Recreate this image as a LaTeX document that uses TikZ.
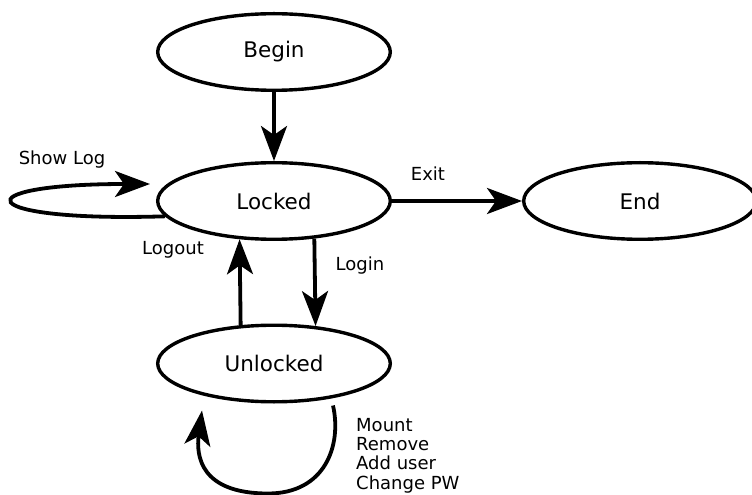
\documentclass[tikz,border=0pt]{standalone}
\usepackage{fontspec}
\setmainfont{DejaVu Sans}
\usetikzlibrary{calc}
\usetikzlibrary{positioning}
\usetikzlibrary{shapes.geometric}
\usetikzlibrary{arrows.meta}

\begin{document}
\begin{tikzpicture}[->, >={Stealth[length=35pt, width=26pt, inset=9pt]}, draw=black, font=\fontsize{18pt}{20pt}\selectfont]
			\tikzstyle{state}=[draw=black, ellipse, line width=3.4pt, minimum width=232.6pt, minimum height=76.6pt, inner sep=0pt, font=\fontsize{21.5pt}{26pt}\selectfont]
			\tikzstyle{edge}=[line width=3.8pt]
			\tikzstyle{lbl}=[inner sep=0pt]
			\useasboundingbox (-274pt,-294pt) rectangle (478pt,201pt);

			\node[state] (Locked) at (0,0) {Locked};
			\node[state, above=69pt of Locked] (Begin) {Begin};
			\node[state, right=130pt of Locked] (End) {End};
			\node[state, below=82.5pt of Locked] (Unlocked) {Unlocked};

			% free ends of the two loops
			\coordinate (showtip) at ($(Locked.west)+(-6pt,17pt)$) {};
			\coordinate (mstart) at ($(Unlocked)+(59pt,-42pt)$) {};
			\coordinate (mlow) at ($(Unlocked)+(-6pt,-130pt)$) {};
			\coordinate (mtip) at ($(Unlocked)+(-72pt,-47pt)$) {};

			\draw[edge] (Begin) -- (Locked);
			\draw[edge] (Locked) -- (End);
			\draw[edge] (Locked.317.6) -- (Unlocked.42.4);
			\draw[edge] (Unlocked.131.6) -- (Locked.228.4);
			\draw[edge] (Locked.188) .. controls +(-193pt,-6pt) and +(-190pt,0pt) .. (showtip);
			\draw[edge] (mstart) .. controls +(9pt,-40pt) and +(57pt,0pt) .. (mlow) .. controls +(-68pt,0pt) and +(-6pt,-45pt) .. (mtip);

			\node[lbl] at ($(Locked)+(-212pt,41pt)$) {Show Log};
			\node[lbl] at ($(Locked)+(154pt,27pt)$) {Exit};
			\node[lbl] at ($(Locked)+(-101pt,-49pt)$) {Logout};
			\node[lbl] at ($(Locked)+(86pt,-65pt)$) {Login};
			\node[lbl, anchor=north west, align=left, font=\fontsize{18pt}{19.3pt}\selectfont] at ($(Locked)+(82pt,-217pt)$) {Mount\\Remove\\Add user\\Change PW};
\end{tikzpicture}
\end{document}
